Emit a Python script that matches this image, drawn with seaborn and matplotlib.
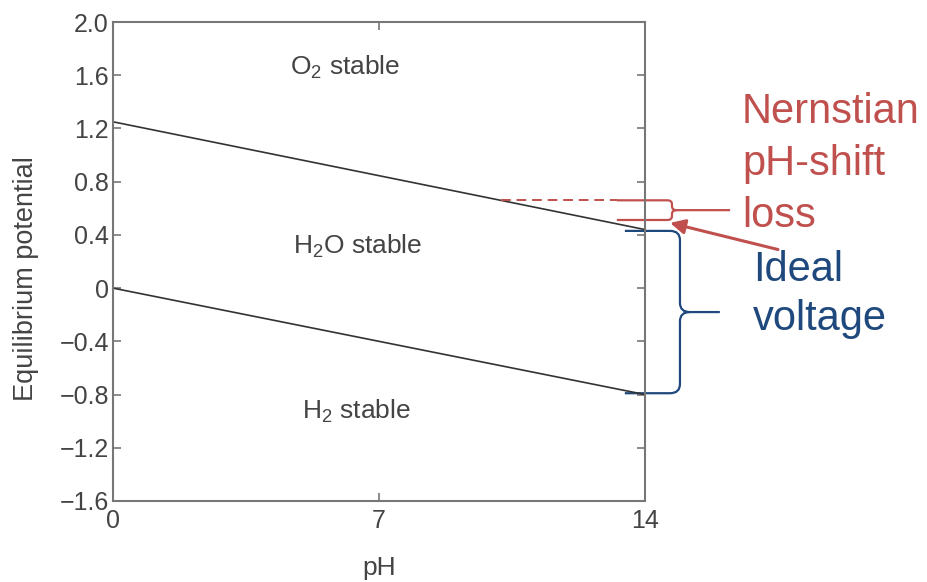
import numpy as np
import pandas as pd
import matplotlib.pyplot as plt
import seaborn as sns
from matplotlib.path import Path
from matplotlib.patches import PathPatch

# data
ph = [0, 14]
o2_line = [1.25, 0.44]     # O2/H2O boundary
h2_line = [0.0, -0.80]     # H2O/H2 boundary
y_ticks = [-1.6, -1.2, -0.8, -0.4, 0, 0.4, 0.8, 1.2, 1.6, 2.0]
y_ticklabels = ["\u22121.6", "\u22121.2", "\u22120.8", "\u22120.4", "0",
                "0.4", "0.8", "1.2", "1.6", "2.0"]
x_ticks = [0, 7, 14]
regions = ["O$_2$ stable", "H$_2$O stable", "H$_2$ stable"]
region_pos = [(6.1, 1.66), (6.45, 0.31), (6.4, -0.93)]
shift_ph = 10.2            # where the dashed Nernstian level starts

RED = "#c0504d"
BLUE = "#1f497d"
GRAY = "#444444"

sns.set_style("ticks")
plt.rcParams["font.family"] = ["Liberation Sans", "DejaVu Sans"]
plt.rcParams["mathtext.fontset"] = "custom"
plt.rcParams["mathtext.rm"] = "Liberation Sans"
plt.rcParams["mathtext.it"] = "Liberation Sans:italic"

df = pd.DataFrame({"pH": ph * 2,
                   "E": o2_line + h2_line,
                   "line": ["o2"] * 2 + ["h2"] * 2})

fig = plt.figure(figsize=(9.27, 5.82), dpi=100)
ax = fig.add_axes([113 / 927, 81 / 582, 532 / 927, 479 / 582])
sns.lineplot(data=df, x="pH", y="E", units="line", estimator=None,
             color="#333333", lw=1.2, ax=ax, legend=False)

ax.set_xlim(0, 14)
ax.set_ylim(-1.6, 2.0)
ax.set_xticks(x_ticks)
ax.set_yticks(y_ticks)
ax.set_yticklabels(y_ticklabels)
ax.tick_params(direction="in", length=6, width=1.2, color="#777777",
               labelsize=18, labelcolor=GRAY, right=True, top=True, pad=3)
ax.tick_params(axis="x", pad=6)
for s in ax.spines.values():
    s.set_color("#777777")
    s.set_linewidth(1.5)

ax.set_xlabel("pH", fontsize=19, color=GRAY)
ax.set_ylabel("Equilibrium potential", fontsize=19.5, color=GRAY)
ax.xaxis.set_label_coords(0.5, -0.115)
ax.yaxis.set_label_coords(-0.14, 0.465)

for txt, (x, y) in zip(regions, region_pos):
    ax.text(x, y, txt, ha="center", va="center", fontsize=19, color=GRAY)

# Nernstian loss bracket (red)
slope = (o2_line[1] - o2_line[0]) / (ph[1] - ph[0])
level = o2_line[0] + slope * shift_ph
ax.plot([shift_ph, 13.26], [level, level], color=RED, lw=1.4,
        ls=(0, (5, 3)), clip_on=False)


def brace(x0, xv, xp, yt, yb, rx, ry, tip_r):
    ym = (yt + yb) / 2
    verts = [(x0, yt), (xv - rx, yt), (xv, yt), (xv, yt - ry),
             (xv, ym + tip_r), (xv, ym), (xv + rx, ym), (xp, ym),
             (xv + rx, ym), (xv, ym), (xv, ym - tip_r),
             (xv, yb + ry), (xv, yb), (xv - rx, yb), (x0, yb)]
    codes = [Path.MOVETO, Path.LINETO, Path.CURVE3, Path.CURVE3,
             Path.LINETO, Path.CURVE3, Path.CURVE3, Path.LINETO,
             Path.MOVETO, Path.CURVE3, Path.CURVE3,
             Path.LINETO, Path.CURVE3, Path.CURVE3, Path.LINETO]
    return Path(verts, codes)


red_brace = brace(13.26, 14.71, 16.24, level, 0.512, 0.12, 0.03, 0.03)
ax.add_patch(PathPatch(red_brace, fill=False, ec=RED, lw=1.6, clip_on=False))

blue_brace = brace(13.47, 14.92, 15.97, o2_line[1] - 0.01, h2_line[1] + 0.01,
                   0.26, 0.07, 0.07)
ax.add_patch(PathPatch(blue_brace, fill=False, ec=BLUE, lw=1.6, clip_on=False))

ax.annotate("", xy=(14.66, 0.49), xytext=(17.5, 0.29),
            arrowprops=dict(arrowstyle="-|>", color=RED, lw=2.2,
                            mutation_scale=22, shrinkA=0, shrinkB=0),
            annotation_clip=False)

fig.text(742 / 927, 1 - 227 / 582, "Nernstian\npH-shift\nloss", color=RED,
         fontsize=30, va="baseline", ha="left", linespacing=1.38)
fig.text(753 / 927, 1 - 330 / 582, "Ideal\nvoltage", color=BLUE,
         fontsize=30, va="baseline", ha="left", linespacing=1.3)

fig.savefig("out.png", dpi=100)
